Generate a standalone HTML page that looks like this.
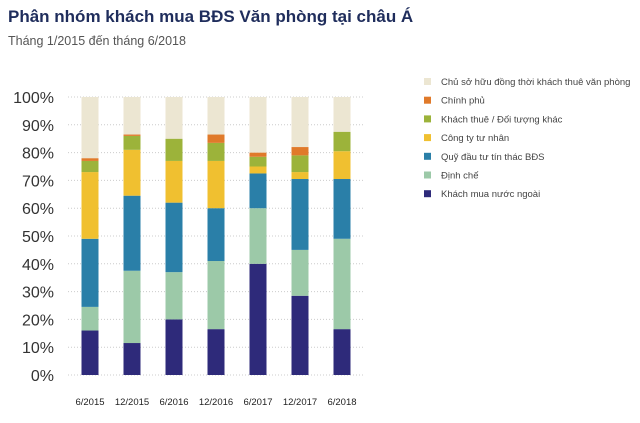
<!DOCTYPE html>
<html><head><meta charset="utf-8"><style>
body{margin:0;background:#fff;width:640px;height:418px;overflow:hidden;font-family:"Liberation Sans",sans-serif}
</style></head><body>
<svg width="640" height="418" id="c">
<text x="8" y="22" font-size="17" font-weight="bold" fill="#1f2d5c">Phân nhóm khách mua BĐS Văn phòng tại châu Á</text>
<text x="8" y="45" font-size="12.5" fill="#555">Tháng 1/2015 đến tháng 6/2018</text>
</svg>
<script>
const categories=["6/2015","12/2015","6/2016","12/2016","6/2017","12/2017","6/2018"];
const seriesNames=["Khách mua nước ngoài","Định chế","Quỹ đầu tư tín thác BĐS","Công ty tư nhân","Khách thuê / Đối tượng khác","Chính phủ","Chủ sở hữu đồng thời khách thuê văn phòng"];
const foreign=[16,11.5,20,16.5,40,28.5,16.5];
const institution=[8.5,26,17,24.5,20,16.5,32.5];
const reit=[24.5,27,25,19,12.5,25.5,21.5];
const privateCo=[24,16.5,15,17,2.5,2.5,10];
const tenants=[4,5,8,6.5,3.5,6,7];
const government=[1,0.5,0,3,1.5,3,0];
const owners=[22,13.5,15,13.5,20,18,12.5];
const yTicks=[0,10,20,30,40,50,60,70,80,90,100];
const colors=["#2e2a7a","#9cc9a8","#2a7fa8","#f0c030","#9cb33a","#e07a2a","#ece6d2"];
const series=[foreign,institution,reit,privateCo,tenants,government,owners];
const NS="http://www.w3.org/2000/svg",svg=document.getElementById('c');
const y=v=>375-v*2.78, x=i=>90+i*42;
function mk(t,a,p){const e=document.createElementNS(NS,t);for(const k in a)e.setAttribute(k,a[k]);(p||svg).appendChild(e);return e;}
yTicks.forEach(t=>{
 const l=mk('line',{x1:68,x2:363,y1:y(t),y2:y(t),stroke:'#ccc','stroke-dasharray':'1 2'});
 
 
 const tx=mk('text',{x:54,y:y(t)+6,'font-size':16,'text-anchor':'end',fill:'#333'});tx.textContent=t+'%';
 
 
});
categories.forEach((c,i)=>{
 let cum=0;
 series.forEach((s,j)=>{
  const v=s[i];if(v>0){const r=mk('rect',{x:x(i)-8.5,y:y(cum+v),width:17,height:v*2.78,fill:colors[j]});
  
  }
  cum+=v;
 });
 const tx=mk('text',{x:x(i),y:405,'font-size':9.5,'text-anchor':'middle',fill:'#222'});tx.textContent=c;
 
 
});
for(let k=6;k>=0;k--){
 const yy=82+(6-k)*18.7;
 const g=mk('g',{});
 
 
 mk('rect',{x:424,y:yy-4,width:7,height:7,fill:colors[k]},g);
 const t=mk('text',{x:441,y:yy+3,'font-size':9.5,fill:'#444'},g);t.textContent=seriesNames[k];
}
</script>
</body></html>
